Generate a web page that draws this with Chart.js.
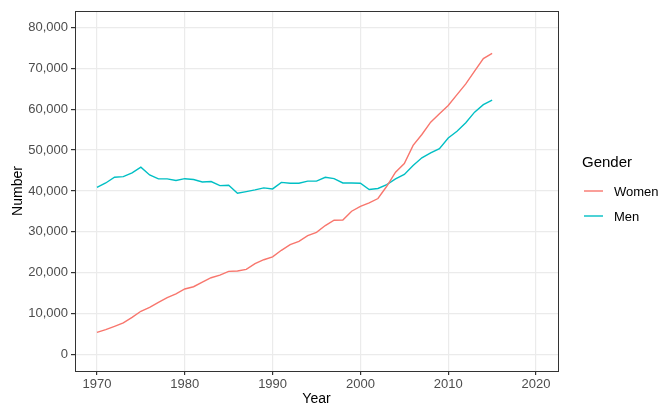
<!DOCTYPE html>
<html>
<head>
<meta charset="utf-8">
<script src="https://cdn.jsdelivr.net/npm/chart.js@4.4.1/dist/chart.umd.min.js"></script>
<style>
  html, body { margin: 0; padding: 0; background: #fff; }
  #wrap { width: 660px; height: 406px; position: relative; }
</style>
</head>
<body>
<div id="wrap"><canvas id="chart"></canvas></div>
<script>
const years = [
  1970, 1971, 1972, 1973, 1974, 1975, 1976, 1977, 1978, 1979,
  1980, 1981, 1982, 1983, 1984, 1985, 1986, 1987, 1988, 1989,
  1990, 1991, 1992, 1993, 1994, 1995, 1996, 1997, 1998, 1999,
  2000, 2001, 2002, 2003, 2004, 2005, 2006, 2007, 2008, 2009,
  2010, 2011, 2012, 2013, 2014, 2015,
];
const women = [
  5450, 6100, 6900, 7750, 9100, 10600, 11550, 12800, 13950, 14850,
  16050, 16600, 17750, 18800, 19450, 20350, 20450, 20850, 22250, 23200,
  23900, 25500, 26900, 27700, 29100, 29900, 31550, 32850, 32900, 35050,
  36250, 37100, 38150, 41150, 44600, 46700, 51150, 53800, 56800, 58850,
  60900, 63550, 66150, 69300, 72350, 73600,
];
const men = [
  40900, 41950, 43350, 43500, 44400, 45800, 43900, 42950, 42950, 42550,
  43000, 42800, 42200, 42300, 41300, 41400, 39450, 39850, 40250, 40750,
  40500, 42100, 41900, 41900, 42400, 42400, 43350, 43000, 41950, 41950,
  41900, 40350, 40600, 41550, 42950, 44050, 46200, 48100, 49300, 50350,
  52950, 54600, 56650, 59250, 61100, 62200,
];
const xTicks = [1970, 1980, 1990, 2000, 2010, 2020];
const yTicks = [0, 10000, 20000, 30000, 40000, 50000, 60000, 70000, 80000];
const seriesNames = ['Women', 'Men'];
const seriesColors = ['#F8766D', '#00BFC4'];
const legendTitle = 'Gender';

const fontFamily = '"Liberation Sans", Arial, Helvetica, sans-serif';

const toPoints = (values) => values.map((v, i) => ({ x: years[i], y: v }));

// panel border on all four sides, like ggplot's theme_bw
const panelBorder = {
  id: 'panelBorder',
  afterDraw(chart) {
    const { ctx, chartArea: a } = chart;
    ctx.save();
    ctx.strokeStyle = '#333333';
    ctx.lineWidth = 1;
    ctx.strokeRect(Math.round(a.left) + 0.5, Math.round(a.top) + 0.5,
      Math.round(a.right - a.left), Math.round(a.bottom - a.top));
    ctx.restore();
  },
};

// legend drawn to the right of the panel
const sideLegend = {
  id: 'sideLegend',
  afterDraw(chart) {
    const { ctx } = chart;
    ctx.save();
    ctx.textBaseline = 'middle';
    ctx.textAlign = 'left';
    ctx.fillStyle = '#000';
    ctx.font = `15px ${fontFamily}`;
    ctx.fillText(legendTitle, 582, 163);
    chart.data.datasets.forEach((ds, i) => {
      const y = 191 + i * 25;
      ctx.strokeStyle = ds.borderColor;
      ctx.lineWidth = 1.4;
      ctx.beginPath();
      ctx.moveTo(584, y);
      ctx.lineTo(603, y);
      ctx.stroke();
      ctx.fillStyle = '#000';
      ctx.font = `13px ${fontFamily}`;
      ctx.fillText(ds.label, 614, y + 1);
    });
    ctx.restore();
  },
};

new Chart(document.getElementById('chart'), {
  type: 'line',
  data: {
    datasets: [women, men].map((vals, i) => ({
      label: seriesNames[i],
      data: toPoints(vals),
      borderColor: seriesColors[i],
      backgroundColor: seriesColors[i],
      borderWidth: 1.4,
      pointRadius: 0,
      tension: 0,
      fill: false,
    })),
  },
  options: {
    responsive: true,
    maintainAspectRatio: false,
    animation: false,
    layout: { padding: { left: 0, right: 102, top: 11, bottom: 0 } },
    plugins: {
      legend: { display: false },
      tooltip: { enabled: false },
    },
    scales: {
      x: {
        type: 'linear',
        min: 1967.5,
        max: 2022.5,
        afterBuildTicks: (scale) => { scale.ticks = xTicks.map((v) => ({ value: v })); },
        afterFit: (scale) => { scale.height = 35; },
        grid: { color: '#ebebeb', lineWidth: 1.2, tickColor: '#333333', tickLength: 4 },
        border: { display: true, color: '#333333', width: 1 },
        ticks: {
          color: '#4d4d4d',
          padding: 2,
          maxRotation: 0,
          font: { family: fontFamily, size: 13 },
          callback: (v) => String(v),
        },
        title: {
          display: true,
          text: 'Year',
          color: '#000',
          padding: { top: 0, bottom: 0 },
          font: { family: fontFamily, size: 14, lineHeight: 1 },
        },
      },
      y: {
        type: 'linear',
        min: -3990,
        max: 83970,
        afterBuildTicks: (scale) => { scale.ticks = yTicks.map((v) => ({ value: v })); },
        afterFit: (scale) => { scale.width = 75; },
        grid: { color: '#ebebeb', lineWidth: 1.2, tickColor: '#333333', tickLength: 4 },
        border: { display: true, color: '#333333', width: 1 },
        ticks: {
          color: '#4d4d4d',
          padding: 3,
          font: { family: fontFamily, size: 13 },
          callback: (v) => v.toLocaleString('en-US'),
        },
        title: {
          display: true,
          text: 'Number',
          color: '#000',
          padding: { top: 11, bottom: 0 },
          font: { family: fontFamily, size: 14, lineHeight: 1 },
        },
      },
    },
  },
  plugins: [panelBorder, sideLegend],
});
</script>
</body>
</html>
